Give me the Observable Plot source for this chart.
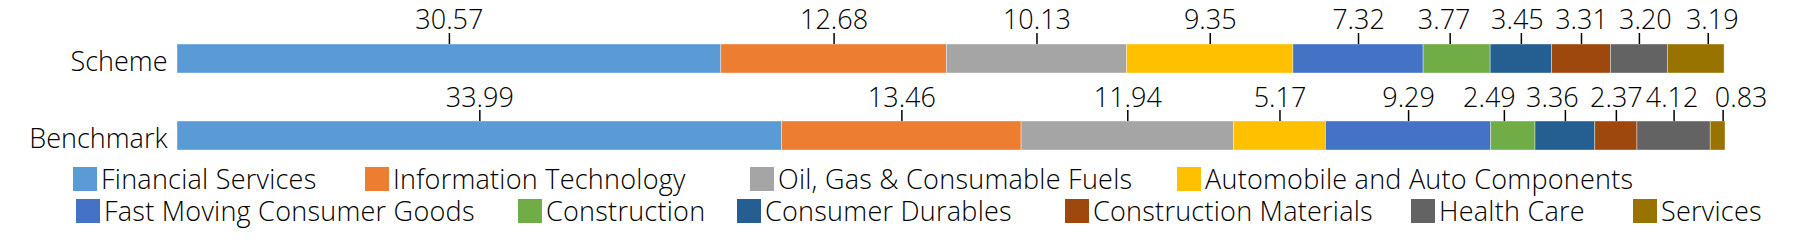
<!DOCTYPE html>
<html>
<head>
<meta charset="utf-8">
<script src="https://cdn.jsdelivr.net/npm/d3@7"></script>
<script src="https://cdn.jsdelivr.net/npm/@observablehq/plot@0.6"></script>
<style>
  html, body { margin: 0; padding: 0; background: #fff; }
  body { width: 1795px; height: 244px; overflow: hidden; font-family: "Open Sans", sans-serif; font-weight: 300; color: #000; }
  #legend { position: relative; width: 1795px; height: 80px; margin-top: 7px; }
  .lrow { position: relative; height: 32px; }
  .litem { position: absolute; top: 0; display: flex; align-items: center; height: 24px; white-space: nowrap; font-size: 27px; letter-spacing: 0.25px; line-height: 24px; }
  .lsw { width: 24px; height: 24px; margin-right: 4px; flex: none; }
  #chart svg text { font-weight: 300; }
</style>
</head>
<body>
<div id="chart"></div>
<div id="legend"></div>
<script>
const categories = ["Scheme", "Benchmark"];
const sectors = [
  "Financial Services",
  "Information Technology",
  "Oil, Gas & Consumable Fuels",
  "Automobile and Auto Components",
  "Fast Moving Consumer Goods",
  "Construction",
  "Consumer Durables",
  "Construction Materials",
  "Health Care",
  "Services"
];
const schemeValues = [30.57, 12.68, 10.13, 9.35, 7.32, 3.77, 3.45, 3.31, 3.20, 3.19];
const benchmarkValues = [33.99, 13.46, 11.94, 5.17, 9.29, 2.49, 3.36, 2.37, 4.12, 0.83];
const colors = ["#5B9BD5", "#ED7D31", "#A5A5A5", "#FFC000", "#4472C4", "#70AD47", "#255E91", "#9E480E", "#636363", "#997300"];

// label nudges (px) as in the reference, where crowded labels were moved aside
const schemeLabelShift = [0, 0, 0, 0, 0, -13, -4, 0, 6, 16];
const benchmarkLabelShift = [0, 0, 0, 0, 0, -24, -13, 0, -2, 23];
const schemeLeaderShift = [0, 0, 0, 0, 0, -7, 0, 0, 0, 12];
const benchmarkLeaderShift = [0, 0, 0, 0, 0, -9, 0, 0, 0, 5];

// legend layout (rows of sector indices and their left offsets)
const legendRows = [[0, 1, 2, 3], [4, 5, 6, 7, 8, 9]];
const legendLeft = [[73, 365, 750, 1177], [76, 518, 737, 1065, 1411, 1633]];

const seriesByCategory = {Scheme: schemeValues, Benchmark: benchmarkValues};
const labelShiftByCategory = {Scheme: schemeLabelShift, Benchmark: benchmarkLabelShift};
const leaderShiftByCategory = {Scheme: schemeLeaderShift, Benchmark: benchmarkLeaderShift};
const rows = [];
for (const c of categories) {
  let acc = 0;
  seriesByCategory[c].forEach((v, i) => {
    rows.push({
      category: c, sector: sectors[i], value: v,
      mid: acc + v / 2,
      labelShift: labelShiftByCategory[c][i],
      leaderShift: leaderShiftByCategory[c][i]
    });
    acc += v;
  });
}
const maxTotal = d3.max(categories, c => d3.sum(seriesByCategory[c]));

const chart = Plot.plot({
  width: 1795,
  height: 160,
  marginLeft: 177,
  marginRight: 70,
  marginTop: 44,
  marginBottom: 10,
  style: {fontFamily: "'Open Sans', sans-serif", fontSize: "27px", color: "#000", background: "#fff"},
  x: {axis: null, domain: [0, maxTotal]},
  y: {domain: categories, paddingInner: 0.6234, paddingOuter: 0, round: false, axis: null},
  color: {domain: sectors, range: colors},
  marks: [
    Plot.barX(rows, Plot.stackX({x: "value", y: "category", fill: "sector", stroke: "#fff", strokeWidth: 0.75, strokeOpacity: 0.5})),
    ...rows.map(r => Plot.tickX([r], {x: "mid", y: "category", dx: r.leaderShift, stroke: "#000", strokeWidth: 1.5, insetTop: -11, insetBottom: 29})),
    ...rows.map(r => Plot.text([r], {x: "mid", y: "category", dx: r.labelShift, text: d => d.value.toFixed(2), lineAnchor: "bottom", dy: -29.5, fontSize: 27, fill: "#000"})),
    Plot.axisY({tickSize: 0, tickPadding: 10, dy: 3, fontSize: 27, label: null})
  ]
});
document.getElementById("chart").appendChild(chart);

const legend = document.getElementById("legend");
legendRows.forEach((idxs, r) => {
  const row = document.createElement("div");
  row.className = "lrow";
  idxs.forEach((i, k) => {
    const item = document.createElement("div");
    item.className = "litem";
    item.style.left = legendLeft[r][k] + "px";
    const sw = document.createElement("span");
    sw.className = "lsw";
    sw.style.background = colors[i];
    const label = document.createElement("span");
    label.textContent = sectors[i];
    item.appendChild(sw);
    item.appendChild(label);
    row.appendChild(item);
  });
  legend.appendChild(row);
});
</script>
</body>
</html>
